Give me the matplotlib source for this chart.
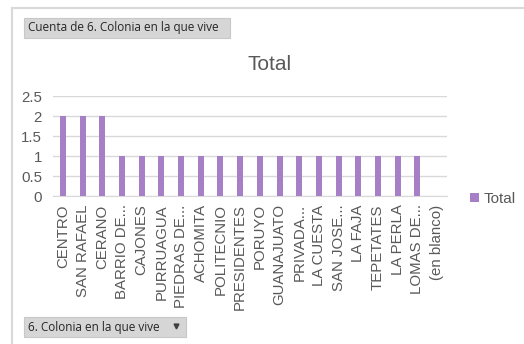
import matplotlib.pyplot as plt
from matplotlib.patches import Rectangle
from matplotlib.lines import Line2D

colonias = ["CENTRO", "SAN RAFAEL", "CERANO", "BARRIO DE...", "CAJONES", "PURRUAGUA",
            "PIEDRAS DE...", "ACHOMITA", "POLITECNIO", "PRESIDENTES", "PORUYO",
            "GUANAJUATO", "PRIVADA...", "LA CUESTA", "SAN JOSE...", "LA FAJA",
            "TEPETATES", "LA PERLA", "LOMAS DE...", "(en blanco)"]
cuenta = [2, 2, 2, 1, 1, 1, 1, 1, 1, 1, 1, 1, 1, 1, 1, 1, 1, 1, 1, 0]
yticks = [0, 0.5, 1, 1.5, 2, 2.5]

plt.rcParams['font.family'] = ['Liberation Sans', 'DejaVu Sans']
bar_color = "#a67fc6"
txt_gray = "#595959"

W, H = 524, 344
fig = plt.figure(figsize=(W / 100, H / 100), dpi=100)

# chart frame (top and left edges visible)
fig.add_artist(Line2D([12 / W, 1], [1 - 8 / H] * 2, color="#d9d9d9", lw=1.5))
fig.add_artist(Line2D([12 / W] * 2, [0, 1 - 8 / H], color="#d9d9d9", lw=1.5))

ax = fig.add_axes([53 / W, 1 - 196 / H, 394 / W, 100 / H])
x = range(len(colonias))
ax.bar(x, cuenta, width=0.3, color=bar_color, zorder=3, label="Total")
ax.set_xlim(-0.5, len(colonias) - 0.5)
ax.set_ylim(0, 2.5)
ax.set_yticks(yticks)
ax.set_yticklabels(["0", "0.5", "1", "1.5", "2", "2.5"])
ax.set_xticks(list(x))
ax.set_xticklabels(colonias, rotation=90, fontsize=10.8, color=txt_gray)
ax.tick_params(axis="y", labelsize=10.8, labelcolor=txt_gray, length=0, pad=8)
ax.tick_params(axis="x", length=0, pad=6)
ax.grid(axis="y", color="#d9d9d9", lw=1, zorder=0)
for s in ["top", "right", "left"]:
    ax.spines[s].set_visible(False)
ax.spines["bottom"].set_color("#d9d9d9")

fig.text(270 / W, 1 - 64 / H, "Total", ha="center", va="center", fontsize=15, color=txt_gray)

leg = fig.legend(loc="center left", bbox_to_anchor=(462 / W, 1 - 199 / H), frameon=False,
                 fontsize=11, handlelength=0.6, handleheight=0.6, handletextpad=0.3,
                 borderpad=0)
for t in leg.get_texts():
    t.set_color(txt_gray)

# pivot field buttons
fig.add_artist(Rectangle((24 / W, 1 - 38 / H), 206 / W, 20 / H, transform=fig.transFigure,
                         facecolor="#d6d6d6", edgecolor="#c8c8c8", lw=0.8))
fig.text(28 / W, 1 - 28 / H, "Cuenta de 6. Colonia en la que vive", ha="left", va="center",
         fontsize=8.5, color="#262626", family="Open Sans")
fig.add_artist(Rectangle((24 / W, 1 - 337 / H), 162 / W, 20 / H, transform=fig.transFigure,
                         facecolor="#d6d6d6", edgecolor="#c8c8c8", lw=0.8))
fig.text(28 / W, 1 - 327 / H, "6. Colonia en la que vive", ha="left", va="center",
         fontsize=8.5, color="#262626", family="Open Sans")
fig.add_artist(Line2D([176 / W], [1 - 326 / H], marker="v", markersize=3.5, color="#404040",
                      transform=fig.transFigure))

fig.savefig("out.png", dpi=100)
